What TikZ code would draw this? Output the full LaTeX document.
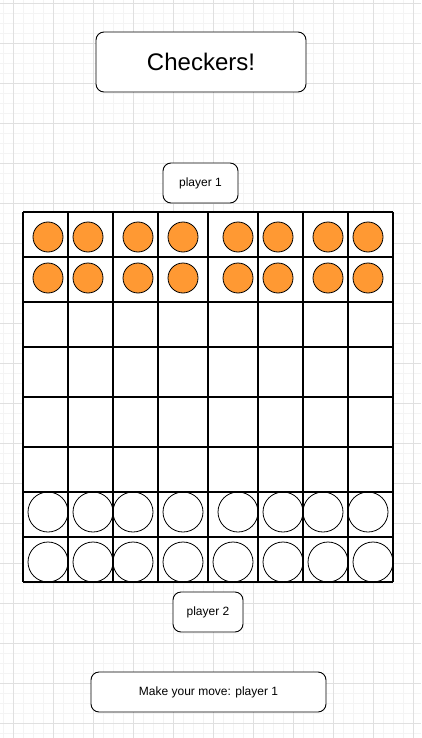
\documentclass[tikz,border=0pt]{standalone}
\usepackage{fontspec}
\setmainfont{Liberation Sans}
\usepackage{tikz}

\definecolor{piece orange}{RGB}{255,153,51}
\definecolor{grid minor}{RGB}{244,244,244}
\definecolor{grid major}{RGB}{224,224,224}

\begin{document}
\begin{tikzpicture}[x=1pt,y=-1pt]
    \tikzstyle{textbox}=[draw,rounded corners=8pt,fill=white,inner sep=0pt,line width=0.9pt]
    \tikzstyle{orangeman}=[circle,draw,fill=piece orange,minimum size=30pt,inner sep=0pt,line width=0.8pt]
    \tikzstyle{whiteman}=[circle,draw,fill=white,minimum size=40pt,inner sep=0pt,line width=0.8pt]
    \useasboundingbox (0,0) rectangle (421,738);
    \fill[white] (0,0) rectangle (421,738);
    % paper grid
    \foreach \gx in {3,13,...,421} \draw[grid minor] (\gx,0) -- (\gx,738);
    \foreach \gy in {3,13,...,738} \draw[grid minor] (0,\gy) -- (421,\gy);
    \foreach \gx in {13,53,...,421} \draw[grid major] (\gx,0) -- (\gx,738);
    \foreach \gy in {3,43,...,738} \draw[grid major] (0,\gy) -- (421,\gy);
    % labels
    \node[textbox,minimum width=210pt,minimum height=60pt] (title) at (201,62) {\fontsize{24}{28}\selectfont Checkers!};
    \node[textbox,minimum width=75pt,minimum height=40pt] (player_1) at (200.5,183) {\fontsize{12}{14}\selectfont player 1};
    \node[textbox,minimum width=70pt,minimum height=40pt] (player_2) at (208,612) {\fontsize{12}{14}\selectfont player 2};
    \node[textbox,minimum width=235pt,minimum height=40pt] (move) at (208.5,692) {\fontsize{12}{14}\selectfont Make your move: player 1};
    % board
    \fill[white] (23,212) rectangle (393,582);
    \node[orangeman] (O_1) at (48,237) {};
    \node[orangeman] (O_2) at (88,237) {};
    \node[orangeman] (O_3) at (138,237) {};
    \node[orangeman] (O_4) at (183,237) {};
    \node[orangeman] (O_5) at (238,237) {};
    \node[orangeman] (O_6) at (278,237) {};
    \node[orangeman] (O_7) at (328,237) {};
    \node[orangeman] (O_8) at (368,237) {};
    \node[orangeman] (O_9) at (48,278) {};
    \node[orangeman] (O_10) at (88,278) {};
    \node[orangeman] (O_11) at (138,278) {};
    \node[orangeman] (O_12) at (183,278) {};
    \node[orangeman] (O_13) at (238,278) {};
    \node[orangeman] (O_14) at (278,278) {};
    \node[orangeman] (O_15) at (328,278) {};
    \node[orangeman] (O_16) at (368,278) {};
    \node[whiteman] (W_1) at (48,512) {};
    \node[whiteman] (W_2) at (93,512) {};
    \node[whiteman] (W_3) at (133,512) {};
    \node[whiteman] (W_4) at (183,512) {};
    \node[whiteman] (W_5) at (238,512) {};
    \node[whiteman] (W_6) at (283,512) {};
    \node[whiteman] (W_7) at (323,512) {};
    \node[whiteman] (W_8) at (368,512) {};
    \node[whiteman] (W_9) at (48,562) {};
    \node[whiteman] (W_10) at (93,562) {};
    \node[whiteman] (W_11) at (133,562) {};
    \node[whiteman] (W_12) at (183,562) {};
    \node[whiteman] (W_13) at (233,562) {};
    \node[whiteman] (W_14) at (283,562) {};
    \node[whiteman] (W_15) at (328,562) {};
    \node[whiteman] (W_16) at (373,562) {};
    \foreach \bx in {23,68,113,158,208,258,303,348,393} \draw[line width=1.5pt] (\bx,212) -- (\bx,582);
    \foreach \by in {212,257,302,347,397,447,492,537,582} \draw[line width=1.5pt] (23,\by) -- (393,\by);
\end{tikzpicture}
\end{document}
